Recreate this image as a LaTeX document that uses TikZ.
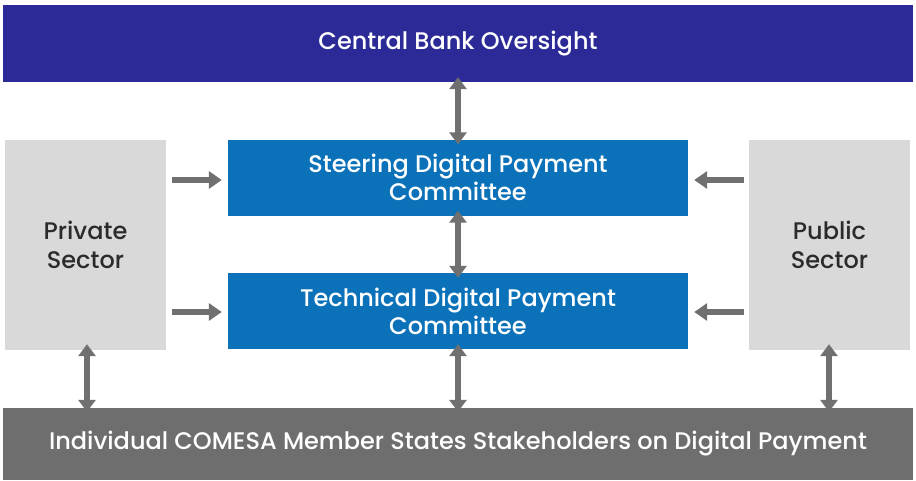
\documentclass[tikz,border=0pt]{standalone}
\usepackage{fontspec}
\setmainfont{Poppins}[UprightFont=* Medium]
\usetikzlibrary{arrows.meta}
\definecolor{bankblue}{HTML}{2B2A96}
\definecolor{committeeblue}{HTML}{0B72BA}
\definecolor{sectorgrey}{HTML}{D9D9D9}
\definecolor{basegrey}{HTML}{6E6E6E}
\definecolor{arrowgrey}{HTML}{707070}
\definecolor{textdark}{HTML}{2B2B2B}
\begin{document}
\begin{tikzpicture}[x=1pt,y=-1pt,
  band/.style={draw=none,minimum height=#1,inner sep=0pt,font=\fontsize{24}{28}\selectfont,text=white},
  committee/.style={draw=none,fill=committeeblue,minimum width=460pt,minimum height=76pt,inner sep=0pt,
    align=center,text=white,font=\fontsize{24}{28}\selectfont},
  sector/.style={draw=none,fill=sectorgrey,minimum width=161pt,minimum height=210pt,inner sep=0pt,
    align=center,text=textdark,font=\fontsize{24}{29}\selectfont},
  flow/.style={draw=arrowgrey,line width=6pt,-{Triangle[length=13pt,width=17pt]}},
  twoway/.style={draw=arrowgrey,line width=6pt,{Triangle[length=12pt,width=17pt]}-{Triangle[length=12pt,width=17pt]}}]
\useasboundingbox[fill=white] (0,0) rectangle (916,480);

% horizontal bands
\node[band=77pt,fill=bankblue,minimum width=910pt] (cbo) at (458,43.5) {Central Bank Oversight};
\node[band=72pt,fill=basegrey,minimum width=910pt] (stake) at (458,444) {Individual COMESA Member States Stakeholders on Digital Payment};

% committees
\node[committee] (steer) at (458,177.5) {Steering Digital Payment\\Committee};
\node[committee] (tech) at (458,311) {Technical Digital Payment\\Committee};

% sectors
\node[sector] (priv) at (85.5,245) {Private\\Sector};
\node[sector] (pub) at (829.5,245) {Public\\Sector};

% connector start points beside the sector boxes
\coordinate (pA) at (172,180);
\coordinate (pB) at (172,312);
\coordinate (qA) at (744,180);
\coordinate (qB) at (744,312);

% arrows
\draw[twoway] ([yshift=5pt]cbo.south) -- ([yshift=-5pt]steer.north);
\draw[twoway] ([yshift=5pt]steer.south) -- ([yshift=-5pt]tech.north);
\draw[twoway] ([yshift=5pt]tech.south) -- ([yshift=-4pt]stake.north);
\draw[twoway] ([xshift=1.5pt,yshift=6pt]priv.south) -- ([xshift=1.5pt,yshift=-4pt]priv.south |- stake.north);
\draw[twoway] ([xshift=-0.5pt,yshift=6pt]pub.south) -- ([xshift=-0.5pt,yshift=-4pt]pub.south |- stake.north);
\draw[flow] (pA) -- ([xshift=-6pt]pA -| steer.west);
\draw[flow] (pB) -- ([xshift=-6pt]pB -| tech.west);
\draw[flow] (qA) -- ([xshift=6pt]qA -| steer.east);
\draw[flow] (qB) -- ([xshift=6pt]qB -| tech.east);
\end{tikzpicture}
\end{document}
